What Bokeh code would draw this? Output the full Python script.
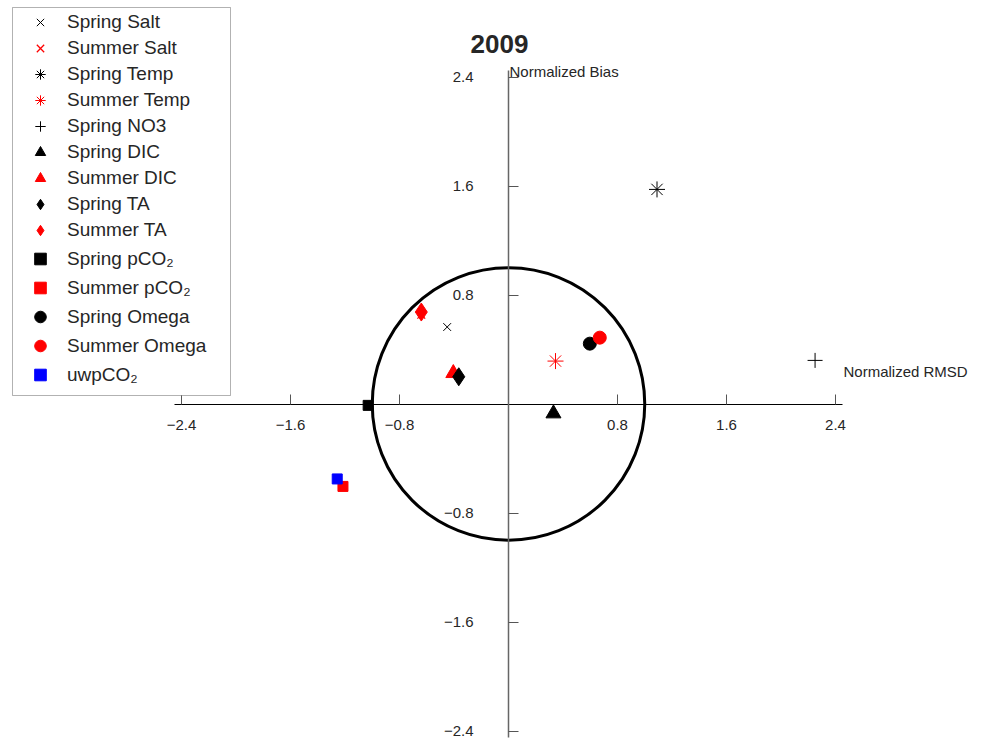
from bokeh.plotting import figure
from bokeh.models import Range1d, FixedTicker, Label, Legend, LegendItem, BoxAnnotation
from bokeh.embed import file_html
from bokeh.resources import INLINE

# ---- data (normalized RMSD, normalized bias) ----
names = ["Spring Salt", "Summer Salt", "Spring Temp", "Summer Temp", "Spring NO3",
         "Spring DIC", "Summer DIC", "Spring TA", "Summer TA", "Spring pCO\u2082",
         "Summer pCO\u2082", "Spring Omega", "Summer Omega", "uwpCO\u2082"]
rmsd = [-0.45, -0.64, 1.09, 0.345, 2.25, 0.33, -0.405, -0.365, -0.64, -1.03,
        -1.215, 0.597, 0.67, -1.257]
bias = [0.565, 0.655, 1.575, 0.315, 0.32, -0.07, 0.226, 0.20, 0.675, -0.01,
        -0.605, 0.443, 0.487, -0.55]
ticks = [-2.4, -1.6, -0.8, 0.8, 1.6, 2.4]

# ---- styles ----
markers = ["x", "x", "asterisk", "asterisk", "cross", "triangle", "triangle",
           "diamond", "diamond", "square", "square", "circle", "circle", "square"]
colors = ["black", "red", "black", "red", "black", "black", "red", "black", "red",
          "black", "red", "black", "red", "blue"]
sizes = [11, 11, 16, 16, 15, 15, 15, 18, 18, 10, 10, 13, 13, 10]
widths = [1, 1.3, 1, 1, 1, 1, 1, 1, 1, 1, 1, 1, 1, 1]
filled = [False, False, False, False, False, True, True, True, True, True, True,
          True, True, True]

W, H = 981, 739
scale = 136.25
x0, y0 = 508, 403.5

p = figure(width=W, height=H, output_backend="svg", toolbar_location=None,
           title=None, min_border=0,
           x_range=Range1d(-x0 / scale, (W - x0) / scale),
           y_range=Range1d(-(H - y0) / scale, y0 / scale))
p.outline_line_color = None
p.grid.visible = False
p.background_fill_color = "white"
p.border_fill_color = "white"

# axes crossing at origin
for ax in (p.xaxis[0], p.yaxis[0]):
    ax.fixed_location = 0
    ax.bounds = (-2.45, 2.45)
    ax.ticker = FixedTicker(ticks=ticks, minor_ticks=[])
    ax.major_tick_in = 10
    ax.major_tick_out = 0
    ax.minor_tick_in = 0
    ax.minor_tick_out = 0
    ax.major_label_text_font = "Liberation Sans"
    ax.major_label_text_font_size = "15px"
    ax.major_label_text_color = "#262626"
p.xaxis[0].axis_line_color = "black"
p.xaxis[0].major_tick_line_color = "#555555"
p.xaxis[0].major_label_standoff = 16
p.yaxis[0].axis_line_color = "#666666"
p.yaxis[0].axis_line_width = 1.5
p.yaxis[0].major_tick_line_color = "#555555"
p.yaxis[0].major_label_standoff = 35

# unit circle
p.circle(x=[0], y=[0], radius=[1], fill_color=None, line_color="black", line_width=3)

renderers = []
for i in range(len(names)):
    kw = dict(marker=markers[i], size=sizes[i], line_color=colors[i], line_width=widths[i])
    kw["fill_color"] = colors[i] if filled[i] else None
    renderers.append(p.scatter([rmsd[i]], [bias[i]], **kw))

# legend frame
p.add_layout(BoxAnnotation(left=12, right=230, top=H - 7, bottom=H - 395,
                           left_units="screen", right_units="screen",
                           top_units="screen", bottom_units="screen",
                           fill_color="white", fill_alpha=1,
                           line_color="black", line_width=1))


def make_legend(idx, gh, loc):
    lg = Legend(items=[LegendItem(label=names[i], renderers=[renderers[i]]) for i in idx],
                location=loc, padding=0, margin=0, spacing=0,
                glyph_height=gh, label_height=20, glyph_width=46,
                label_standoff=4, label_text_font="Liberation Sans",
                label_text_font_size="19px", label_text_color="#262626",
                border_line_color=None, background_fill_alpha=0)
    p.add_layout(lg, "center")


make_legend(list(range(9)), 26, (17, 496))
make_legend(list(range(9, 14)), 29, (17, 350))

p.add_layout(Label(x=499, y=H - 43, x_units="screen", y_units="screen", text="2009",
                   text_font="Liberation Sans", text_font_style="bold",
                   text_font_size="26px", text_align="center", text_baseline="middle",
                   text_color="#262626"))
p.add_layout(Label(x=509, y=H - 71, x_units="screen", y_units="screen",
                   text="Normalized Bias", text_font="Liberation Sans",
                   text_font_size="15px", text_align="left", text_baseline="middle",
                   text_color="#262626"))
p.add_layout(Label(x=843, y=H - 371, x_units="screen", y_units="screen",
                   text="Normalized RMSD", text_font="Liberation Sans",
                   text_font_size="15px", text_align="left", text_baseline="middle",
                   text_color="#262626"))

open("out.html", "w").write(file_html(p, INLINE))
